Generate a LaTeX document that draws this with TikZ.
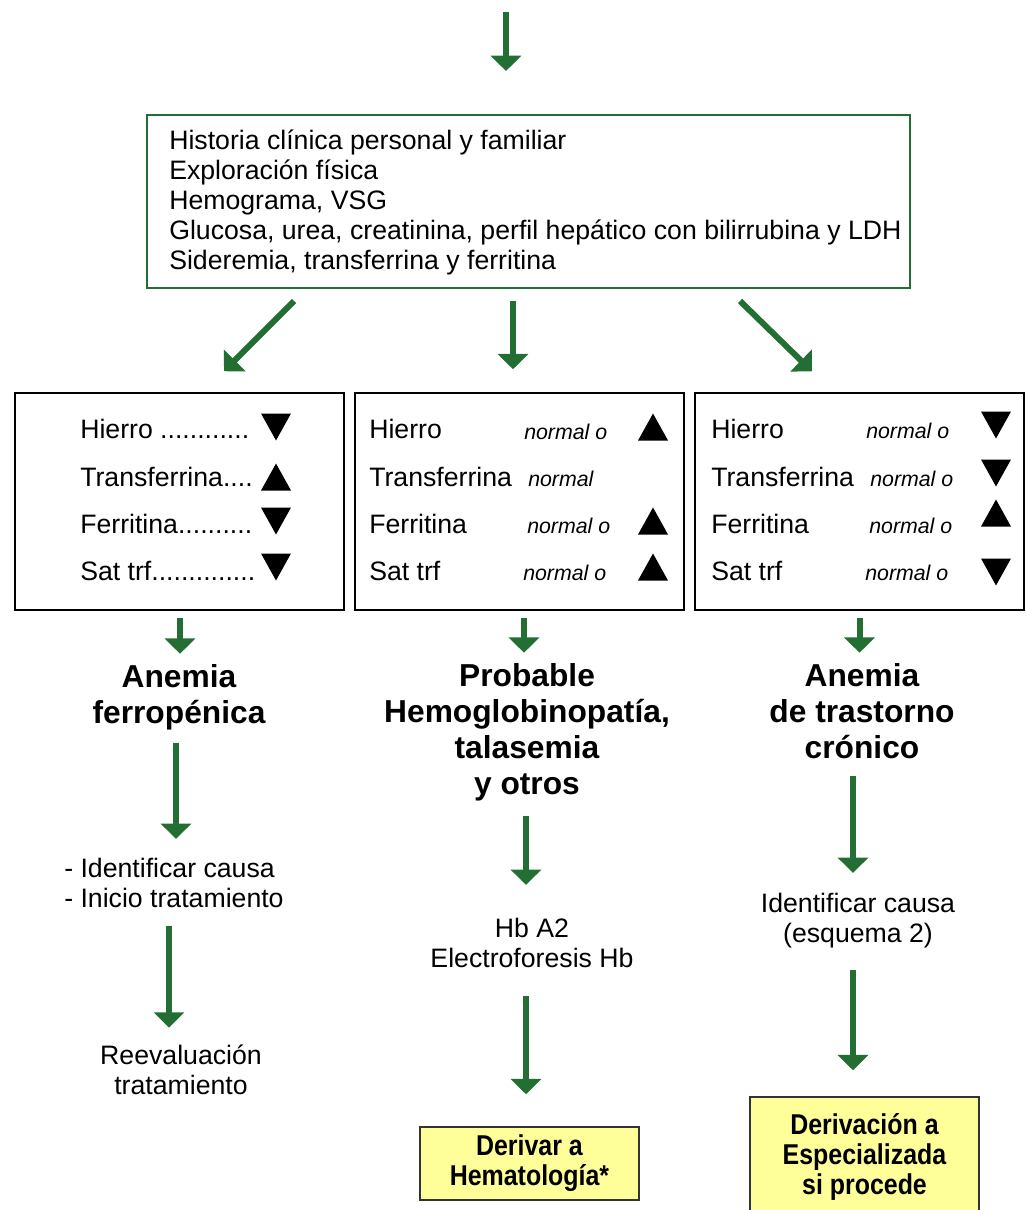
\documentclass[tikz,border=0pt]{standalone}
\usepackage{fontspec}
\setmainfont{Liberation Sans}
\newfontfamily\narrowfont[FakeStretch=0.87]{Liberation Sans}
\usetikzlibrary{arrows.meta,calc}

\definecolor{arrgreen}{RGB}{35,110,50}
\definecolor{paleyellow}{RGB}{255,255,153}

\tikzset{
  arr/.style={draw=arrgreen, line width=4.5pt, -{Triangle[width=22.5pt,length=11.5pt]}},
  box/.style={draw, line width=1.1pt, minimum width=246.75pt, minimum height=162.75pt},
  lbl/.style={font=\fontsize{20}{22.5}\selectfont, inner sep=0, anchor=base west},
  nrm/.style={font=\fontsize{16}{19}\selectfont\itshape, inner sep=0, anchor=base west},
  head/.style={font=\fontsize{23.8}{27}\selectfont\bfseries, align=center, inner sep=0, anchor=base},
  txt/.style={font=\fontsize{20}{22.5}\selectfont, align=center, inner sep=0, anchor=base},
  yel/.style={draw=black!80, line width=1.1pt, fill=paleyellow, align=center,
    font=\narrowfont\fontsize{21.5}{22.5}\selectfont\bfseries},
  upTri/.pic={\fill (-15,13.5) -- (15,13.5) -- (0,-13.5) -- cycle;},
  dnTri/.pic={\fill (-15,-13.5) -- (15,-13.5) -- (0,13.5) -- cycle;}
}

\begin{document}
\begin{tikzpicture}[x=0.75pt, y=-0.75pt]
  \useasboundingbox (0,0) rectangle (1025,1210);

  % studies
  \coordinate (in) at (506,12);
  \node[draw=arrgreen, line width=1.5pt, minimum width=572.25pt, minimum height=129.75pt] (top) at (528.5,201.5) {};
  \node[lbl, anchor=west, align=left] (hist) at (169,202.5) {Historia clínica personal y familiar\\
    Exploración física\\ Hemograma, VSG\\
    Glucosa, urea, creatinina, perfil hepático con bilirrubina y LDH\\
    Sideremia, transferrina y ferritina};

  % three profiles
  \node[box] (b1) at (179.5,501.5) {};
  \node[box] (b2) at (519.5,501.5) {};
  \node[box] (b3) at (859.5,501.5) {};

  \node[lbl] (l1) at (80,438) {Hierro ............};
  \node[lbl] (l2) at (80,486) {Transferrina....};
  \node[lbl] (l3) at (80,533) {Ferritina..........};
  \node[lbl] (l4) at (80,580) {Sat trf..............};
  \pic at (276,427) {dnTri};
  \pic at (276,477) {upTri};
  \pic at (276,521) {dnTri};
  \pic at (276,567) {dnTri};

  \node[lbl] (m1) at (369,438) {Hierro};
  \node[lbl] (m2) at (369,486) {Transferrina};
  \node[lbl] (m3) at (369,533) {Ferritina};
  \node[lbl] (m4) at (369,580) {Sat trf};
  \node[nrm] (n1) at (524,439) {normal o};
  \node[nrm] (n2) at (528,486) {normal};
  \node[nrm] (n3) at (527,533) {normal o};
  \node[nrm] (n4) at (523,580) {normal o};
  \pic at (653,427) {upTri};
  \pic at (653,521) {upTri};
  \pic at (653,567) {upTri};

  \node[lbl] (r1) at (711,438) {Hierro};
  \node[lbl] (r2) at (711,486) {Transferrina};
  \node[lbl] (r3) at (711,533) {Ferritina};
  \node[lbl] (r4) at (711,580) {Sat trf};
  \node[nrm] (s1) at (866,438) {normal o};
  \node[nrm] (s2) at (870,486) {normal o};
  \node[nrm] (s3) at (869,533) {normal o};
  \node[nrm] (s4) at (865,580) {normal o};
  \pic at (996,425) {dnTri};
  \pic at (996,473) {dnTri};
  \pic at (996,513) {upTri};
  \pic at (996,572) {dnTri};

  % diagnoses (base = last line)
  \node[head] (h1) at (179,723) {Anemia\\ferropénica};
  \node[head] (h2) at (527,794) {Probable\\Hemoglobinopatía,\\talasemia\\y otros};
  \node[head] (h3) at (862,758) {Anemia\\de trastorno\\crónico};

  \node[txt, align=left, anchor=base west] (t1) at (64,907.5) {- Identificar causa\\- Inicio tratamiento};
  \node[txt] (t2) at (181,1094.5) {Reevaluación\\tratamiento};
  \node[txt] (hb) at (532,967.5) {Hb A2\\Electroforesis Hb};
  \node[txt] (ic) at (858,942.5) {Identificar causa\\(esquema 2)};

  \node[yel, minimum width=164.25pt, minimum height=54.75pt] (y1) at (529.5,1163.5) {Derivar a\\Hematología*};
  \node[yel, minimum width=171.75pt, minimum height=90pt] (y2) at (864.5,1157) {Derivación a\\Especializada\\si procede};

  % arrows
  \draw[arr] (in) -- ($(in|-top.north)+(0,-43)$);
  \draw[arr] ($(top.south)+(-234.5,12)$) -- ($(b1.north)+(44.5,-21)$);
  \draw[arr] ($(top.south)+(-15.5,12)$) -- ($(b2.north)+(-6.5,-23)$);
  \draw[arr] ($(top.south)+(211.5,12)$) -- ($(b3.north)+(-47.5,-21)$);

  \draw[arr] ($(b1.south)+(0.5,7)$) -- ($(b1.south|-h1.north)+(0.5,-10)$);
  \draw[arr] ($(b2.south)+(4.5,7)$) -- ($(b2.south|-h2.north)+(4.5,-10)$);
  \draw[arr] ($(b3.south)+(0,7)$) -- ($(b3.south|-h3.north)+(0,-10)$);

  \draw[arr] ($(h1.south)+(-3,13)$) -- ($(h1.south|-t1.north)+(-3,-19)$);
  \draw[arr] ($(t2.north|-t1.south)+(-12,18)$) -- ($(t2.north)+(-12,-17)$);
  \draw[arr] ($(h2.south)+(-1,15)$) -- ($(h2.south|-hb.north)+(-1,-33)$);
  \draw[arr] ($(h2.south|-hb.south)+(-1,28)$) -- ($(h2.south|-y1.north)+(-1,-32)$);
  \draw[arr] ($(h3.south)+(-9,17)$) -- ($(h3.south|-ic.north)+(-9,-20)$);
  \draw[arr] ($(h3.south|-ic.south)+(-9,22)$) -- ($(h3.south|-y2.north)+(-9,-26)$);
\end{tikzpicture}
\end{document}
